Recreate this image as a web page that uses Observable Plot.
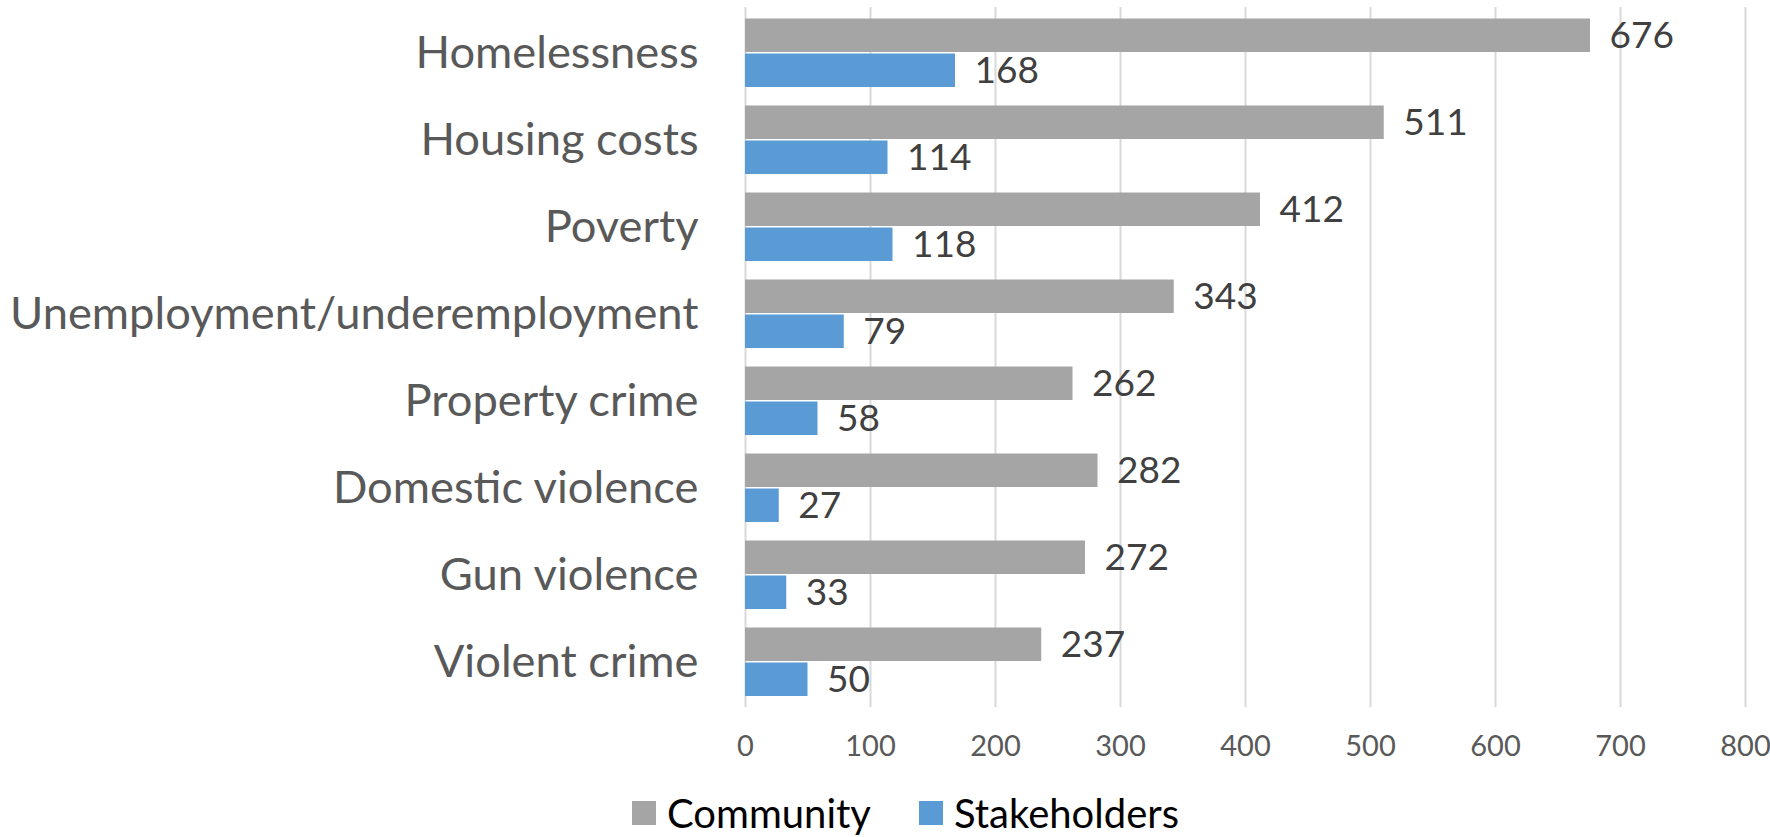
<!DOCTYPE html>
<html>
<head>
<meta charset="utf-8">
<script src="https://cdn.jsdelivr.net/npm/d3@7"></script>
<script src="https://cdn.jsdelivr.net/npm/@observablehq/plot@0.6"></script>
<style>
  html, body { margin: 0; padding: 0; background: #fff; }
  body { width: 1770px; height: 837px; position: relative; overflow: hidden; font-family: Lato, "Open Sans", sans-serif; }
  #legend { position: absolute; left: 632px; top: 794px; display: flex; align-items: center; font-size: 40px; color: #000; line-height: 38px; }
  #legend .item { display: flex; align-items: center; }
  #legend .sw { width: 24px; height: 24px; margin-right: 11px; }
</style>
</head>
<body>
<div id="chart"></div>
<div id="legend"></div>
<script>
const categories = ["Homelessness", "Housing costs", "Poverty", "Unemployment/underemployment", "Property crime", "Domestic violence", "Gun violence", "Violent crime"];
const community = [676, 511, 412, 343, 262, 282, 272, 237];
const stakeholders = [168, 114, 118, 79, 58, 27, 33, 50];
const seriesNames = ["Community", "Stakeholders"];
const seriesColors = ["#a5a5a5", "#5b9bd5"];
const xTicks = [0, 100, 200, 300, 400, 500, 600, 700, 800];

const commData = categories.map((c, i) => ({category: c, value: community[i]}));
const stakeData = categories.map((c, i) => ({category: c, value: stakeholders[i]}));

const chart = Plot.plot({
  width: 1770,
  height: 770,
  marginLeft: 745,
  marginRight: 25,
  marginTop: 7,
  marginBottom: 63,
  style: {fontFamily: "Lato, 'Open Sans', sans-serif", background: "#fff"},
  x: {domain: [0, 800], ticks: xTicks},
  y: {domain: categories, padding: 0},
  marks: [
    Plot.gridX(xTicks, {stroke: "#d9d9d9", strokeOpacity: 1, strokeWidth: 2}),
    Plot.barX(commData, {x: "value", y: "category", fill: seriesColors[0], insetTop: 9.5, insetBottom: 44}),
    Plot.barX(stakeData, {x: "value", y: "category", fill: seriesColors[1], insetTop: 44.5, insetBottom: 9}),
    Plot.text(commData, {x: "value", y: "category", text: d => String(d.value), dx: 19, dy: -17.25, textAnchor: "start", fontSize: 37, fill: "#404040"}),
    Plot.text(stakeData, {x: "value", y: "category", text: d => String(d.value), dx: 19, dy: 17.75, textAnchor: "start", fontSize: 37, fill: "#404040"}),
    Plot.axisY({tickSize: 0, tickPadding: 47, fontSize: 45.3, fill: "#595959", label: null}),
    Plot.axisX({ticks: xTicks, tickSize: 0, tickPadding: 28, fontSize: 29, fill: "#595959", label: null, tickFormat: d => String(d)})
  ]
});
document.getElementById("chart").appendChild(chart);

const legend = document.getElementById("legend");
seriesNames.forEach((name, i) => {
  const item = document.createElement("div");
  item.className = "item";
  item.style.marginRight = i === 0 ? "48px" : "0";
  const sw = document.createElement("div");
  sw.className = "sw";
  sw.style.background = seriesColors[i];
  const t = document.createElement("span");
  t.textContent = name;
  item.appendChild(sw);
  item.appendChild(t);
  legend.appendChild(item);
});
</script>
</body>
</html>
